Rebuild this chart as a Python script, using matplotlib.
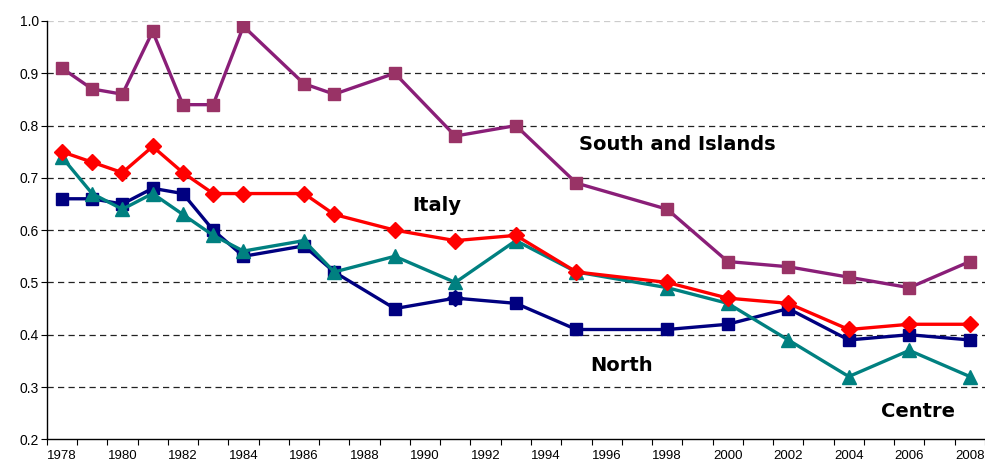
import matplotlib
matplotlib.use('Agg')
import matplotlib.pyplot as plt
import numpy as np

years = [1978, 1979, 1980, 1981, 1982, 1983, 1984, 1986, 1987, 1989,
         1991, 1993, 1995, 1998, 2000, 2002, 2004, 2006, 2008]

south = [0.91, 0.87, 0.86, 0.98, 0.84, 0.84, 0.99, 0.88, 0.86, 0.90,
         0.78, 0.80, 0.69, 0.64, 0.54, 0.53, 0.51, 0.49, 0.54]
italy = [0.75, 0.73, 0.71, 0.76, 0.71, 0.67, 0.67, 0.67, 0.63, 0.60,
         0.58, 0.59, 0.52, 0.50, 0.47, 0.46, 0.41, 0.42, 0.42]
north = [0.66, 0.66, 0.65, 0.68, 0.67, 0.60, 0.55, 0.57, 0.52, 0.45,
         0.47, 0.46, 0.41, 0.41, 0.42, 0.45, 0.39, 0.40, 0.39]
centre = [0.74, 0.67, 0.64, 0.67, 0.63, 0.59, 0.56, 0.58, 0.52, 0.55,
          0.50, 0.58, 0.52, 0.49, 0.46, 0.39, 0.32, 0.37, 0.32]

labels = ['South and Islands', 'Italy', 'North', 'Centre']
label_pos = [(1998.35, 0.763), (1990.4, 0.648), (1996.5, 0.342), (2006.3, 0.254)]

y_ticks = [0.2, 0.3, 0.4, 0.5, 0.6, 0.7, 0.8, 0.9, 1.0]
x_labels = list(range(1978, 2009, 2))

plt.rcParams['font.family'] = ['Liberation Sans', 'DejaVu Sans']

fig = plt.figure(figsize=(9.85, 4.66), dpi=100)
ax = fig.add_axes([46.7 / 985, (466 - 439.3) / 466, 1 - 46.7 / 985, (439.3 - 21) / 466])

for yv in y_ticks[1:]:
    col = '#cccccc' if yv == 1.0 else '#222222'
    ax.axhline(yv, color=col, lw=0.9, ls=(0, (5, 3.4)), zorder=1)

ax.plot(years, north, color='#000080', lw=2.4, marker='s', ms=9, zorder=3)
# Excel drew one odd diamond marker in the North series
i91 = years.index(1991)
ax.plot([years[i91]], [north[i91]], color='#000080', marker='D', ms=8.5, ls='none', zorder=3.1)
ax.plot(years, centre, color='#008080', lw=2.4, marker='^', ms=10, zorder=4)
ax.plot(years, italy, color='#ff0000', lw=2.4, marker='D', ms=8.5, zorder=5)
ax.plot(years, south, color='#8a1e78', lw=2.4, marker='s', ms=9,
        mfc='#993366', mec='#993366', zorder=6)

for txt, (lx, ly) in zip(labels, label_pos):
    ax.text(lx, ly, txt, fontsize=14, fontweight='bold', family='DejaVu Sans',
            ha='center', va='center', zorder=7)

ax.set_xlim(1977.5, 2008.5)
ax.set_ylim(0.2, 1.0)
ax.set_yticks(y_ticks)
ax.set_yticklabels(['%.1f' % v for v in y_ticks], fontsize=10)
ax.set_xticks(np.arange(1977.5, 2009, 1.0))
ax.set_xticklabels([])
ax.set_xticks(x_labels, minor=True)
ax.set_xticklabels([str(y) for y in x_labels], minor=True, fontsize=9.5)
ax.tick_params(axis='x', which='major', direction='out', length=4, width=0.8)
ax.tick_params(axis='x', which='minor', length=0, pad=8)
ax.tick_params(axis='y', direction='out', length=4, width=0.8, pad=1.5)

for s in ['top', 'right']:
    ax.spines[s].set_visible(False)
for s in ['left', 'bottom']:
    ax.spines[s].set_linewidth(1.0)

fig.savefig('out.png', dpi=100)
